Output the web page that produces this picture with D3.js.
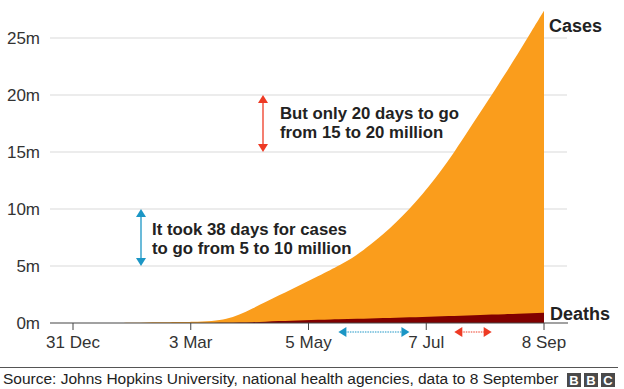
<!DOCTYPE html>
<html>
<head>
<meta charset="utf-8">
<script src="https://cdn.jsdelivr.net/npm/d3@7"></script>
<style>
  body { margin: 0; background: #fff; }
  svg { display: block; font-family: "Liberation Sans", Arial, Helvetica, sans-serif; }
</style>
</head>
<body>
<script>
// cumulative totals, millions
var dates = ["2019-12-31","2020-01-22","2020-02-01","2020-02-15","2020-03-01","2020-03-03",
  "2020-03-15","2020-03-22","2020-03-29","2020-04-05","2020-04-12","2020-04-19","2020-04-26",
  "2020-05-03","2020-05-10","2020-05-17","2020-05-21","2020-05-31","2020-06-07","2020-06-14",
  "2020-06-21","2020-06-28","2020-07-05","2020-07-12","2020-07-19","2020-07-22","2020-07-29",
  "2020-08-05","2020-08-11","2020-08-18","2020-08-25","2020-09-01","2020-09-08"];
var cases = [0, 0.0006, 0.012, 0.069, 0.088, 0.093,
  0.17, 0.34, 0.72, 1.27, 1.85, 2.40, 2.97,
  3.52, 4.1, 4.68, 5.0, 5.95, 6.85, 7.8,
  8.85, 10.0, 11.3, 12.7, 14.3, 15.0, 16.75,
  18.5, 20.0, 21.8, 23.6, 25.5, 27.4];
var deaths = [0, 0, 0.0003, 0.0016, 0.003, 0.0031,
  0.006, 0.015, 0.034, 0.07, 0.115, 0.165, 0.205,
  0.245, 0.28, 0.315, 0.33, 0.37, 0.40, 0.43,
  0.465, 0.50, 0.535, 0.57, 0.61, 0.625, 0.66,
  0.70, 0.735, 0.775, 0.81, 0.85, 0.89];

var yTicks = [0, 5, 10, 15, 20, 25];
var xTicks = ["2019-12-31","2020-03-03","2020-05-05","2020-07-07","2020-09-08"];

// annotations: [start date, end date, from value, to value]
var blueNote = ["2020-05-21", "2020-06-28", 5, 10];
var redNote = ["2020-07-22", "2020-08-11", 15, 20];
var blueText = ["It took 38 days for cases", "to go from 5 to 10 million"];
var redText = ["But only 20 days to go", "from 15 to 20 million"];

var parse = d3.timeParse("%Y-%m-%d");
var data = dates.map(function(d, i) { return {date: parse(d), cases: cases[i], deaths: deaths[i]}; });

var W = 624, H = 389;
var svg = d3.select("body").append("svg").attr("width", W).attr("height", H);

var x = d3.scaleTime().domain([parse("2019-12-31"), parse("2020-09-08")]).range([73, 544]);
var y = d3.scaleLinear().domain([0, 25]).range([323, 38]);

// gridlines + y labels
svg.selectAll(".grid").data(yTicks.slice(1)).enter().append("line")
  .attr("x1", 50).attr("x2", 567)
  .attr("y1", function(d) { return y(d); }).attr("y2", function(d) { return y(d); })
  .attr("stroke", "#d9d9d9").attr("stroke-width", 1);

svg.selectAll(".ylab").data(yTicks).enter().append("text")
  .attr("x", 40).attr("y", function(d) { return y(d); })
  .attr("dy", "0.35em").attr("text-anchor", "end")
  .attr("font-size", 17).attr("fill", "#333")
  .text(function(d) { return d + "m"; });

// areas
var caseArea = d3.area().curve(d3.curveBasis)
  .x(function(d) { return x(d.date); }).y0(y(0)).y1(function(d) { return y(d.cases); });
var deathArea = d3.area().curve(d3.curveMonotoneX)
  .x(function(d) { return x(d.date); }).y0(y(0)).y1(function(d) { return y(d.deaths); });

svg.append("path").datum(data).attr("d", caseArea).attr("fill", "#fa9d1c");
svg.append("path").datum(data).attr("d", deathArea).attr("fill", "#800000");

// x axis
svg.append("line").attr("x1", 50).attr("x2", 568).attr("y1", y(0)).attr("y2", y(0))
  .attr("stroke", "#444").attr("stroke-width", 1.2);
svg.selectAll(".xt").data(xTicks).enter().append("line")
  .attr("x1", function(d) { return x(parse(d)); }).attr("x2", function(d) { return x(parse(d)); })
  .attr("y1", y(0)).attr("y2", y(0) + 7).attr("stroke", "#444");
svg.selectAll(".xlab").data(xTicks).enter().append("text")
  .attr("x", function(d) { return x(parse(d)); }).attr("y", 348)
  .attr("text-anchor", "middle").attr("font-size", 17).attr("fill", "#333")
  .text(function(d) { return d3.timeFormat("%-d %b")(parse(d)); });

// series labels
svg.append("text").attr("x", 549).attr("y", 32).attr("font-size", 18)
  .attr("font-weight", "bold").attr("fill", "#222").text("Cases");
svg.append("text").attr("x", 550).attr("y", 320).attr("font-size", 18)
  .attr("font-weight", "bold").attr("fill", "#222").text("Deaths");

// arrows
function vArrow(xp, v0, v1, col) {
  var ya = y(v1), yb = y(v0), h = 8, w = 5;
  svg.append("line").attr("x1", xp).attr("x2", xp).attr("y1", ya + 4).attr("y2", yb - 4)
    .attr("stroke", col).attr("stroke-width", 1.3);
  svg.append("path").attr("fill", col)
    .attr("d", "M" + xp + "," + ya + "L" + (xp - w) + "," + (ya + h) + "L" + (xp + w) + "," + (ya + h) + "Z");
  svg.append("path").attr("fill", col)
    .attr("d", "M" + xp + "," + yb + "L" + (xp - w) + "," + (yb - h) + "L" + (xp + w) + "," + (yb - h) + "Z");
}
function hArrow(d0, d1, yp, col) {
  var xa = x(parse(d0)), xb = x(parse(d1)), h = 8, w = 5;
  svg.append("line").attr("x1", xa + 4).attr("x2", xb - 4).attr("y1", yp).attr("y2", yp)
    .attr("stroke", col).attr("stroke-width", 1.2).attr("stroke-dasharray", "1.5,1");
  svg.append("path").attr("fill", col)
    .attr("d", "M" + xa + "," + yp + "L" + (xa + h) + "," + (yp - w) + "L" + (xa + h) + "," + (yp + w) + "Z");
  svg.append("path").attr("fill", col)
    .attr("d", "M" + xb + "," + yp + "L" + (xb - h) + "," + (yp - w) + "L" + (xb - h) + "," + (yp + w) + "Z");
}

var blue = "#1b96c5", red = "#ee3a24";
vArrow(141, blueNote[2], blueNote[3], blue);
vArrow(263, redNote[2], redNote[3], red);
hArrow(blueNote[0], blueNote[1], 332, blue);
hArrow(redNote[0], redNote[1], 332, red);

function note(lines, x0, y0) {
  svg.append("g").selectAll("text").data(lines).enter().append("text")
    .attr("x", x0).attr("y", function(d, i) { return y0 + i * 18.5; })
    .attr("font-size", 16.8).attr("font-weight", "bold").attr("fill", "#222")
    .text(function(d) { return d; });
}
note(blueText, 152, 235);
note(redText, 280, 119);

// footer
svg.append("line").attr("x1", 0).attr("x2", 618).attr("y1", 367.5).attr("y2", 367.5)
  .attr("stroke", "#555").attr("stroke-width", 1);
svg.append("text").attr("x", 3).attr("y", 384).attr("font-size", 15.5).attr("fill", "#222")
  .text("Source: Johns Hopkins University, national health agencies, data to 8 September");
var logo = svg.append("g");
["B", "B", "C"].forEach(function(c, i) {
  var bx = 567 + i * 17;
  logo.append("rect").attr("x", bx).attr("y", 373).attr("width", 14).attr("height", 14).attr("fill", "#4a4a4a");
  logo.append("text").attr("x", bx + 7).attr("y", 385).attr("text-anchor", "middle")
    .attr("font-size", 13).attr("font-weight", "bold").attr("fill", "#fff").text(c);
});
</script>
</body>
</html>
